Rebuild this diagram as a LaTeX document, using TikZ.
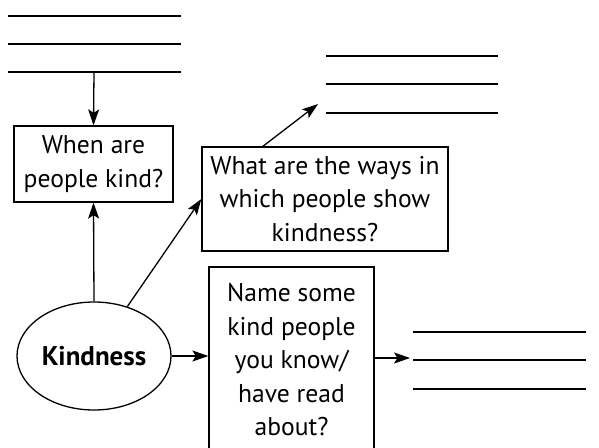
\documentclass[tikz,border=0pt]{standalone}
\usepackage{fontspec}
\setmainfont{PT Sans}
\usepackage{tikz}
\usetikzlibrary{positioning,arrows.meta,shapes.geometric}

\begin{document}
\begin{tikzpicture}[
  x=1pt, y=-1pt,
  qbox/.style={draw, line width=1.3pt, align=center, inner sep=0pt,
               font=\fontsize{25.6}{33.5}\selectfont},
  hub/.style={draw, ellipse, line width=1.3pt, inner sep=0pt,
              minimum width=154pt, minimum height=108pt,
              font=\fontsize{27}{30}\selectfont\bfseries},
  blank/.style={line width=1.5pt},
  link/.style={line width=1.3pt, -{Stealth[length=16pt,width=11pt,inset=3.5pt]}},
]
\clip (0,0) rectangle (599,447);
\node[qbox, minimum width=159pt, minimum height=76pt] (when) at (93.5,164)
  {When are\\people kind?};
\node[qbox, minimum width=246pt, minimum height=104pt] (ways) at (325,199)
  {What are the ways in\\which people show\\kindness?};
\node[qbox, minimum width=165pt, minimum height=186pt] (name) at (291.5,360)
  {Name some\\kind people\\you know/\\have read\\about?};
\node[hub] (kind) at (94,356) {Kindness};
% answer lines
\foreach \y in {16,44,72} \draw[blank] (8,\y) -- (181,\y);
\foreach \y in {56,84,113} \draw[blank] (326,\y) -- (498,\y);
\foreach \y in {332,360,389} \draw[blank] (413,\y) -- (586,\y);
\coordinate (whenlines) at (94,72);
\coordinate (wayslines) at (318,104);
\coordinate (namelines) at (410,358);
\coordinate (waystop) at (262,147);
\draw[link] (whenlines) -- (when.north);
\draw[link] (kind.north) -- (when.south);
\draw[link] (kind.56) -- (ways.west);
\draw[link] (kind.east) -- (name.west |- kind.east);
\draw[link] (waystop) -- (wayslines);
\draw[link] (name.east |- namelines) -- (namelines);
\end{tikzpicture}
\end{document}
